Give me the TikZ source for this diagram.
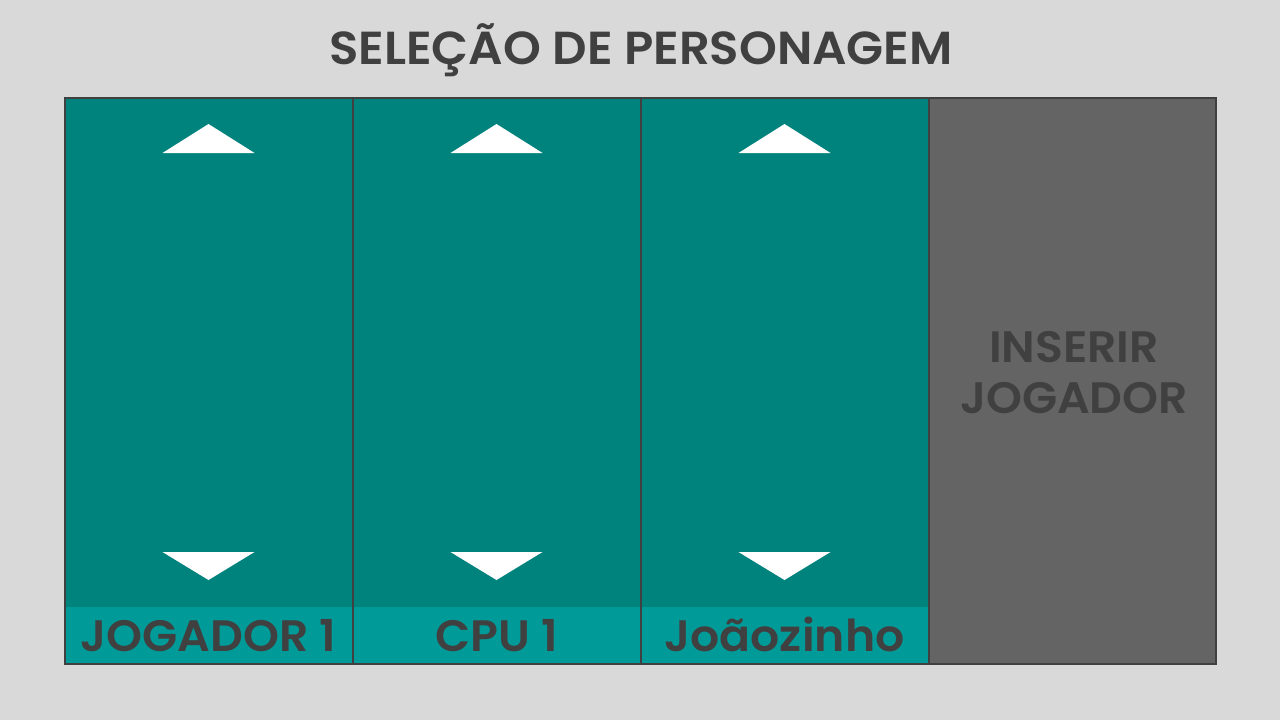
\documentclass[tikz,border=0pt]{standalone}
\usepackage{fontspec}
\setmainfont{Poppins}
\newfontfamily\semi{Poppins SemiBold}[FakeStretch=1.04]
\definecolor{bg}{HTML}{D9D9D9}
\definecolor{tealmain}{HTML}{00827D}
\definecolor{teallight}{HTML}{009B98}
\definecolor{graypanel}{HTML}{646464}
\definecolor{edge}{HTML}{404040}
\definecolor{txt}{HTML}{404040}
\begin{document}
\begin{tikzpicture}[x=1pt,y=-1pt,
  panel/.style={draw=edge,line width=1.5pt,fill=tealmain},
  strip/.style={fill=teallight},
  lbl/.style={text=txt,font=\fontsize{44}{51}\semi,inner sep=0pt,align=center},
  arrowtri/.style={fill=white}]
\useasboundingbox (0,0) rectangle (1280,720);
\fill[bg] (0,0) rectangle (1280,720);
\node[text=txt,font=\fontsize{46.3}{52}\semi,inner sep=0pt] (title) at (641,50) {SELEÇÃO DE PERSONAGEM};
\foreach \i/\c/\t in {0/208.5/JOGADOR 1,1/496.5/CPU 1,2/784.5/Joãozinho}{
  \fill[tealmain] (65+288*\i,98) rectangle (65+288*\i+288,664);
  \fill[teallight] (65+288*\i,607) rectangle (65+288*\i+288,664);
  \fill[arrowtri] (\c,124) -- (\c+46,153) -- (\c-46,153) -- cycle;
  \fill[arrowtri] (\c-46,552) -- (\c+46,552) -- (\c,580) -- cycle;
  \node[lbl,anchor=base] (l\i) at (\c,651) {\t};
}
\fill[graypanel] (929,98) rectangle (1216,664);
\node[lbl] (ins) at (1074,373) {INSERIR\\JOGADOR};
\draw[edge,line width=1.5pt] (65,98) rectangle (1216,664);
\foreach \x in {353,641,929}{\draw[edge,line width=1.5pt] (\x,98) -- (\x,664);}
\end{tikzpicture}
\end{document}
